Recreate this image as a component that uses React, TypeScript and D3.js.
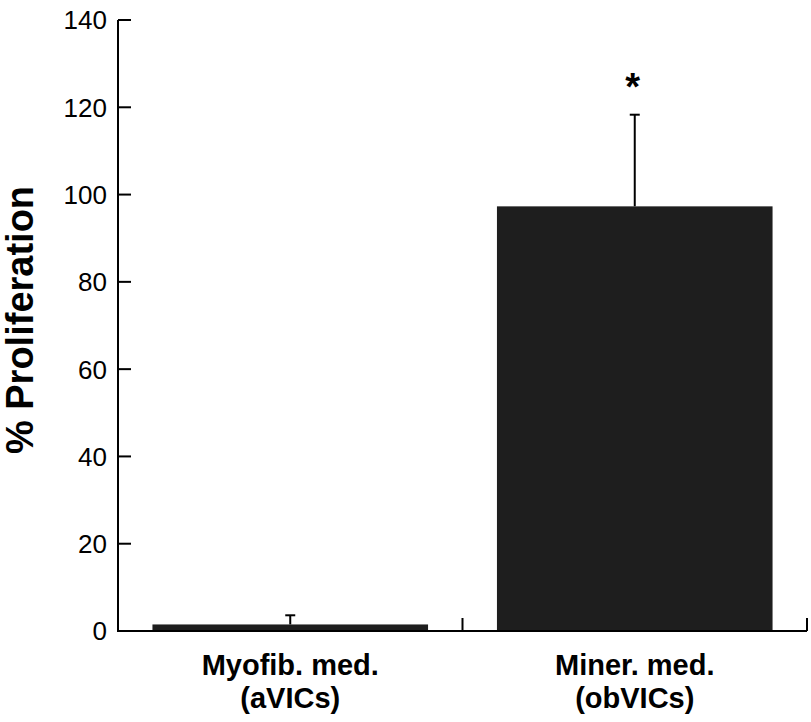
import React from "react";
import * as d3 from "d3";

const categories = ["Myofib. med.|(aVICs)", "Miner. med.|(obVICs)"];
const means = [1.5, 97.3];
const errors = [2.1, 21.0];
const significance = ["", "*"];
const yTicks = [0, 20, 40, 60, 80, 100, 120, 140];

const W = 811;
const H = 722;

export default function App() {
  const x = d3.scaleBand<string>().domain(categories).range([118, 807]).paddingInner(0.2).paddingOuter(0.1);
  const y = d3.scaleLinear().domain([0, 140]).range([631, 20]);
  const font = "Liberation Sans, Arial, sans-serif";
  const bw = x.bandwidth();
  const step = x.step();
  const boundaries = categories.map((c) => (x(c) as number) + bw + (step - bw) / 2);
  return (
    <svg width={W} height={H} style={{ position: "absolute", left: 0, top: 0 }}>
      <rect width={W} height={H} fill="#fff" />
      {categories.map((c, i) => {
        const x0 = x(c) as number;
        const cx = x0 + bw / 2;
        return (
          <g key={c}>
            <line x1={cx} x2={cx} y1={y(means[i])} y2={y(means[i] + errors[i])} stroke="#000" strokeWidth={2} />
            <line x1={cx - 5} x2={cx + 5} y1={y(means[i] + errors[i])} y2={y(means[i] + errors[i])} stroke="#000" strokeWidth={2} />
            <rect x={x0} y={y(means[i])} width={bw} height={y(0) - y(means[i])} fill="#1e1e1e" />
            {significance[i] && (
              <text x={cx - 2} y={y(means[i] + errors[i]) - 15} textAnchor="middle" fontFamily={font} fontWeight="bold" fontSize={38}>
                {significance[i]}
              </text>
            )}
            {c.split("|").map((line, j) => (
              <text key={j} x={cx} y={675 + j * 33} textAnchor="middle" fontFamily={font} fontWeight="bold" fontSize={29}>
                {line}
              </text>
            ))}
          </g>
        );
      })}
      <line x1={118} x2={118} y1={y(140)} y2={y(0) + 1} stroke="#000" strokeWidth={2} />
      <line x1={117} x2={807} y1={y(0)} y2={y(0)} stroke="#000" strokeWidth={2} />
      {boundaries.map((bx, i) => (
        <line key={i} x1={bx} x2={bx} y1={y(0)} y2={y(0) - 13} stroke="#000" strokeWidth={2} />
      ))}
      {yTicks.map((t) => (
        <g key={t}>
          <line x1={118} x2={131} y1={y(t)} y2={y(t)} stroke="#000" strokeWidth={2} />
          <text x={107} y={y(t)} dy="0.36em" textAnchor="end" fontFamily={font} fontSize={26}>
            {t}
          </text>
        </g>
      ))}
      <text
        transform={`translate(33, 320) rotate(-90)`}
        textAnchor="middle"
        fontFamily={font}
        fontWeight="bold"
        fontSize={38}
      >
        % Proliferation
      </text>
    </svg>
  );
}
